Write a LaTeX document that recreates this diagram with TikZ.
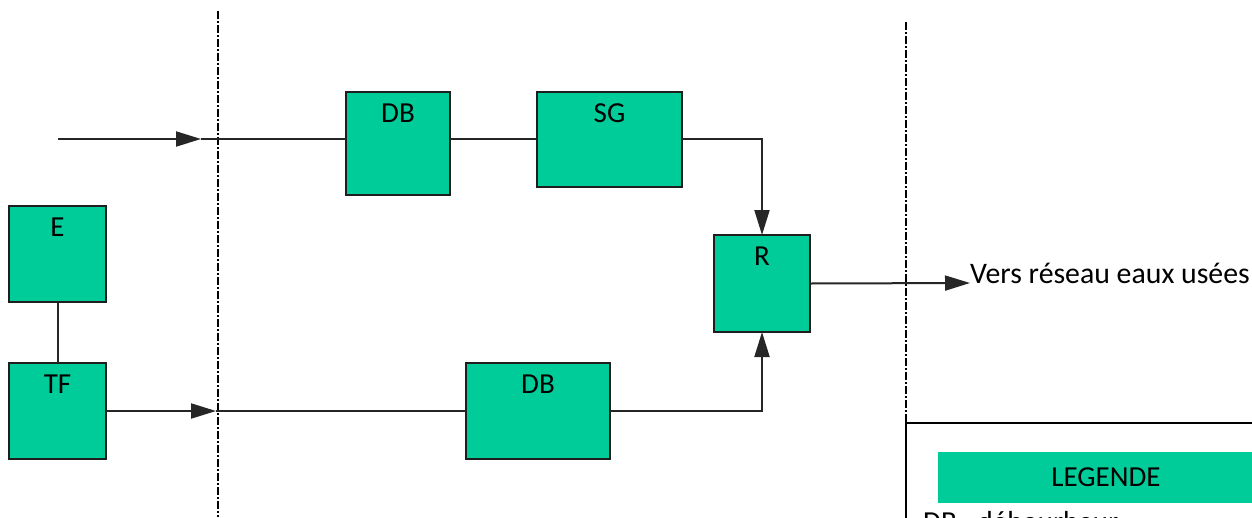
\documentclass[tikz,border=0pt]{standalone}
\usepackage{fontspec}
\setmainfont{Carlito}
\usetikzlibrary{arrows.meta}
\definecolor{boxgreen}{RGB}{0,204,153}
\definecolor{boxline}{RGB}{30,30,30}
\tikzset{
  blk/.style={draw=boxline, line width=2pt, fill=boxgreen, inner sep=0pt, outer sep=0pt},
  lbl/.style={font=\fontsize{29}{34}\selectfont},
  conn/.style={line width=2pt, draw=black!85},
  arr/.style={conn, -{Triangle[length=25pt,width=15pt]}},
  sep/.style={line width=1.6pt, dash pattern=on 8pt off 2pt on 2pt off 2pt},
}
\begin{document}
\begin{tikzpicture}[x=1pt,y=-1pt]
\useasboundingbox (0,0) rectangle (1252,517);
% separators
\draw[sep] (218,11) -- (218,517);
\draw[sep] (906,22) -- (906,423);
% boxes
\node[blk, minimum width=97pt, minimum height=96pt, label={[lbl,anchor=base,yshift=-30pt]north:E}] (E) at (57.5,254) {};
\node[blk, minimum width=97pt, minimum height=96pt, label={[lbl,anchor=base,yshift=-30pt]north:TF}] (TF) at (57.5,411) {};
\node[blk, minimum width=104pt, minimum height=103pt, label={[lbl,anchor=base,yshift=-30pt]north:DB}] (DB1) at (398,143.5) {};
\node[blk, minimum width=145pt, minimum height=95pt, label={[lbl,anchor=base,yshift=-30pt]north:SG}] (SG) at (609.5,139.5) {};
\node[blk, minimum width=96pt, minimum height=97pt, label={[lbl,anchor=base,yshift=-30pt]north:R}] (R) at (762,283.5) {};
\node[blk, minimum width=144pt, minimum height=96pt, label={[lbl,anchor=base,yshift=-30pt]north:DB}] (DB2) at (538,411) {};
% coordinates
\coordinate (in1) at (58,139);
\coordinate (c1) at (201,139);
\coordinate (c2) at (216,411);
\node[anchor=base west, inner sep=0pt, font=\fontsize{29.8}{35}\selectfont] (out) at (970,283) {Vers réseau eaux usées};
% connectors
\draw[arr] (in1) -- (c1);
\draw[conn] (c1) -- (DB1.west |- c1);
\draw[conn] (DB1.east |- c1) -- (SG.west |- c1);
\draw[arr] (SG.east |- c1) -| (R.north);
\draw[conn] (E.south) -- (TF.north);
\draw[arr] (TF.east) -- (c2);
\draw[conn] (c2) -- (DB2.west);
\draw[arr] (DB2.east) -| (R.south);
\draw[arr] (R.east) -- (out.base west);
% legend
\draw[line width=2pt] (906,540) -- (906,423) -- (1270,423);
\node[fill=boxgreen, inner sep=0pt, minimum width=336pt, minimum height=51pt, font=\fontsize{29}{34}\selectfont] (leg) at (1106,477.5) {LEGENDE};
\node[anchor=base west, inner sep=0pt, font=\fontsize{29}{34}\selectfont] (dbtxt) at (923,531) {DB : débourbeur};
\end{tikzpicture}
\end{document}
